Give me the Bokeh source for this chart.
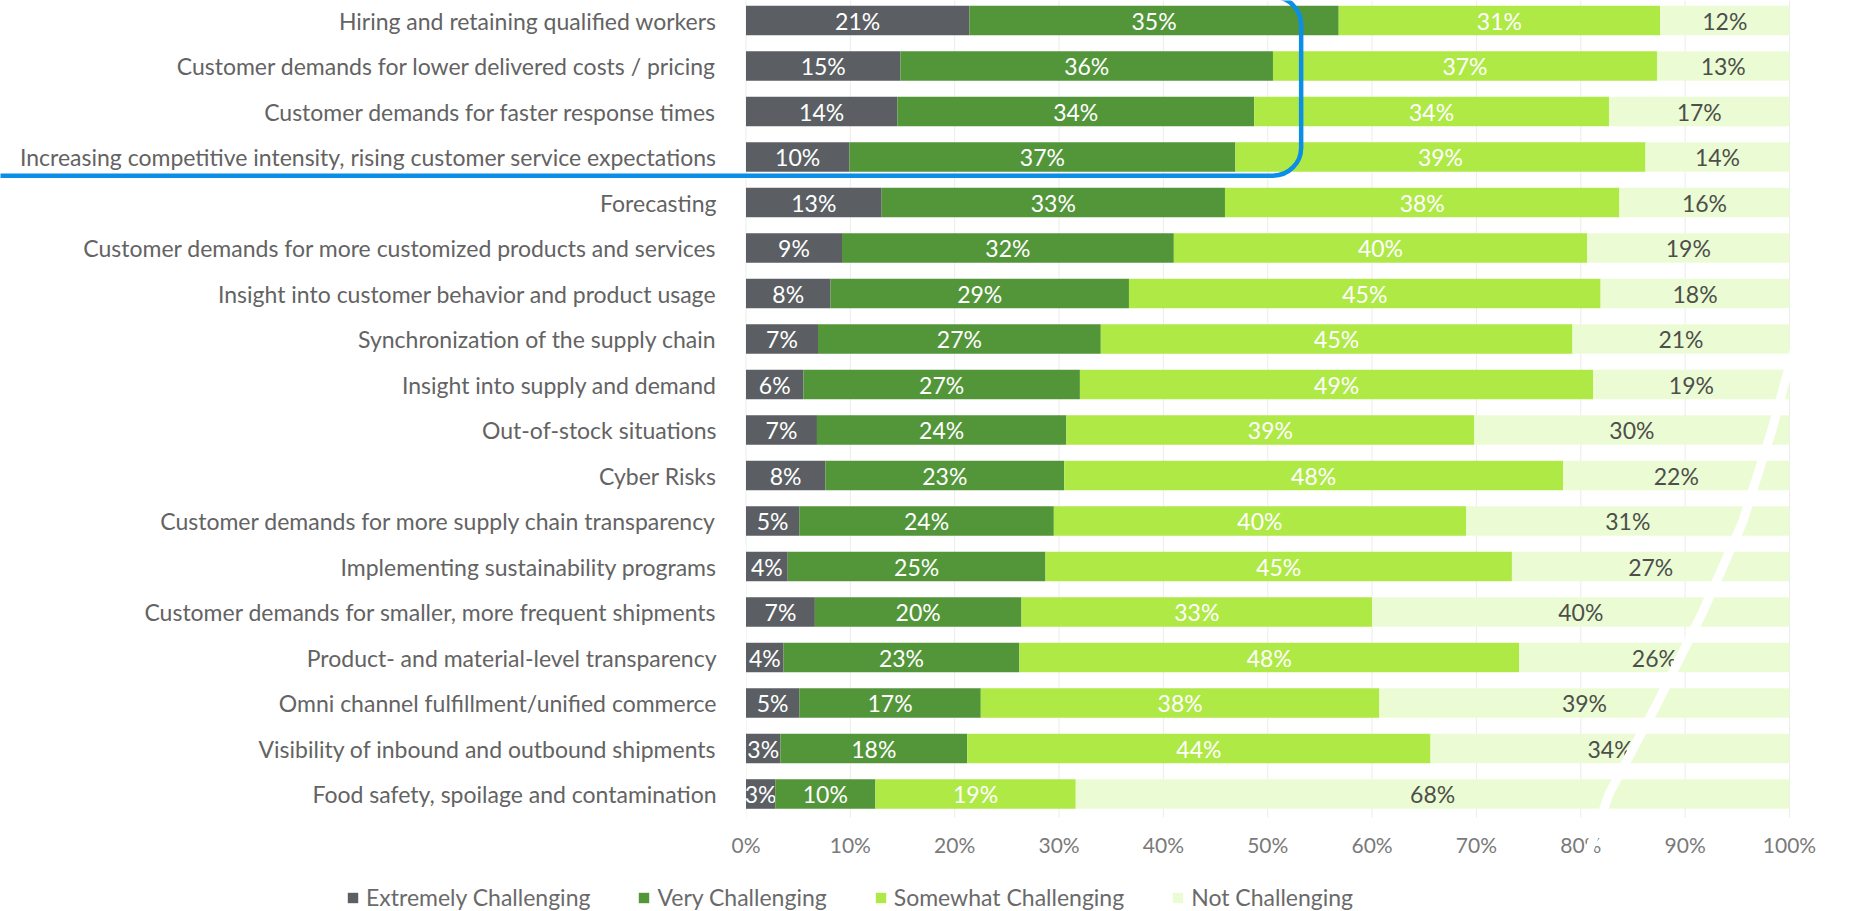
from bokeh.plotting import figure
from bokeh.models import (ColumnDataSource, Range1d, FixedTicker, Legend, LegendItem,
                          BoxAnnotation)
from bokeh.embed import file_html
from bokeh.resources import INLINE
from bokeh.core.properties import value

categories = [
    "Hiring and retaining qualified workers",
    "Customer demands for lower delivered costs / pricing",
    "Customer demands for faster response times",
    "Increasing competitive intensity, rising customer service expectations",
    "Forecasting",
    "Customer demands for more customized products and services",
    "Insight into customer behavior and product usage",
    "Synchronization of the supply chain",
    "Insight into supply and demand",
    "Out-of-stock situations",
    "Cyber Risks",
    "Customer demands for more supply chain transparency",
    "Implementing sustainability programs",
    "Customer demands for smaller, more frequent shipments",
    "Product- and material-level transparency",
    "Omni channel fulfillment/unified commerce",
    "Visibility of inbound and outbound shipments",
    "Food safety, spoilage and contamination",
]
series_names = ["Extremely Challenging", "Very Challenging", "Somewhat Challenging", "Not Challenging"]
extremely = [21.4, 14.8, 14.5, 9.9, 13.0, 9.2, 8.1, 6.9, 5.5, 6.8, 7.6, 5.1, 4.0, 6.6, 3.6, 5.1, 3.3, 2.8]
very = [35.4, 35.7, 34.2, 37.0, 32.9, 31.8, 28.6, 27.1, 26.5, 23.9, 22.9, 24.4, 24.7, 19.8, 22.6, 17.4, 17.9, 9.6]
somewhat = [30.8, 36.8, 34.0, 39.3, 37.8, 39.6, 45.2, 45.2, 49.2, 39.1, 47.8, 39.5, 44.7, 33.6, 47.9, 38.2, 44.4, 19.2]
not_challenging = [12.4, 12.7, 17.3, 13.8, 16.3, 19.4, 18.1, 20.8, 18.8, 30.2, 21.7, 31.0, 26.6, 40.0, 25.9, 39.3, 34.4, 68.4]
# printed labels
extremely_lbl = [21, 15, 14, 10, 13, 9, 8, 7, 6, 7, 8, 5, 4, 7, 4, 5, 3, 3]
very_lbl = [35, 36, 34, 37, 33, 32, 29, 27, 27, 24, 23, 24, 25, 20, 23, 17, 18, 10]
somewhat_lbl = [31, 37, 34, 39, 38, 40, 45, 45, 49, 39, 48, 40, 45, 33, 48, 38, 44, 19]
not_lbl = [12, 13, 17, 14, 16, 19, 18, 21, 19, 30, 22, 31, 27, 40, 26, 39, 34, 68]
x_ticks = [0, 10, 20, 30, 40, 50, 60, 70, 80, 90, 100]
x_tick_labels = ["0%", "10%", "20%", "30%", "40%", "50%", "60%", "70%", "80%", "90%", "100%"]

colors = ["#5b5f63", "#53963a", "#afe945", "#ebfcd5"]
text_colors = ["#ffffff", "#ffffff", "#ffffff", "#4d4f4a"]
FONT = "Lato"

W, H = 1849, 911
X0_PX, PX_PER_PCT = 745.5, 10.435      # where 0 % sits, and pixels per percent
GRID_BOTTOM_PX = 817
row_px, row0_px = 45.5, 20.0
y_top = (0 - row0_px) / row_px
y_bot = (H - row0_px) / row_px
y_grid_bottom = (GRID_BOTTOM_PX - row0_px) / row_px
x_start = -X0_PX / PX_PER_PCT
x_end = (W - X0_PX) / PX_PER_PCT
label_x = (716 - X0_PX) / PX_PER_PCT

p = figure(width=W, height=H, output_backend="svg", toolbar_location=None,
           x_range=Range1d(x_start, x_end), y_range=Range1d(y_bot, y_top),
           y_axis_location=None,
           min_border_left=0, min_border_right=0, min_border_top=0,
           min_border_bottom=0)
p.outline_line_color = None
p.background_fill_color = "white"
p.border_fill_color = "white"
p.xgrid.grid_line_color = None
p.ygrid.grid_line_color = None

rows = list(range(len(categories)))

# vertical grid lines at the tick positions, stopping above the tick labels
p.segment(x0=x_ticks, y0=[y_top] * len(x_ticks), x1=x_ticks,
          y1=[y_grid_bottom] * len(x_ticks), line_color="#ececec", line_width=1,
          level="underlay")

# category labels
p.text(x=[label_x] * len(rows), y=rows, text=categories, text_align="right",
       text_baseline="middle", text_color="#636363", text_font=value(FONT),
       text_font_size="23px")

vals = [extremely, very, somewhat, not_challenging]
lbls = [extremely_lbl, very_lbl, somewhat_lbl, not_lbl]
left = [0.0] * len(rows)
items = []
for k in range(4):
    right = [l + v for l, v in zip(left, vals[k])]
    src = ColumnDataSource(dict(y=rows, left=left, right=right,
                                mid=[(l + r) / 2 for l, r in zip(left, right)],
                                txt=[f"{v}%" for v in lbls[k]]))
    r = p.hbar(y="y", left="left", right="right", height=0.65, source=src,
               fill_color=colors[k], line_color=None)
    p.text(x="mid", y="y", text="txt", source=src, text_align="center",
           text_baseline="middle", text_color=text_colors[k],
           text_font=value(FONT), text_font_size="23px")
    items.append(LegendItem(label=series_names[k], renderers=[r]))
    left = right

# the bars' left edge hides what spills past 0 %
p.add_layout(BoxAnnotation(left=-2.4, right=0, top=11.5, bottom=y_grid_bottom,
                           fill_color="white", fill_alpha=1, line_alpha=0))

# white slash overlay seen in the picture
slash_x = [100.8, 100.0, 98.3, 95.5, 91.6, 87.3, 82.7, 80.4]
slash_y = [7.0, 7.58, 9.01, 11.03, 13.04, 15.02, 17.0, 18.5]
p.line(slash_x, slash_y, line_color="white", line_width=9, level="overlay")

# blue highlight box
p.add_layout(BoxAnnotation(left=x_start - 20, right=53.2, top=-0.52, bottom=3.41,
                           fill_alpha=0, line_color="#0a8ee6", line_alpha=1,
                           line_width=4.5, border_radius=28))

xa = p.xaxis[0]
xa.fixed_location = y_grid_bottom
xa.ticker = FixedTicker(ticks=x_ticks)
xa.major_label_overrides = {t: s for t, s in zip(x_ticks, x_tick_labels)}
xa.axis_line_color = None
xa.major_tick_line_color = None
xa.minor_tick_line_color = None
xa.major_tick_in = 0
xa.major_tick_out = 0
xa.major_label_standoff = 14
xa.major_label_text_font = FONT
xa.major_label_text_font_size = "21px"
xa.major_label_text_color = "#7a7a7a"

legend = Legend(items=items, orientation="horizontal", location=(346, 0),
                glyph_width=13, glyph_height=13, label_standoff=7, spacing=47,
                padding=0, margin=0, border_line_color=None, background_fill_alpha=0,
                label_text_font=FONT, label_text_font_size="23px",
                label_text_color="#6a6a6a")
p.add_layout(legend)

open("out.html", "w").write(file_html(p, INLINE))
